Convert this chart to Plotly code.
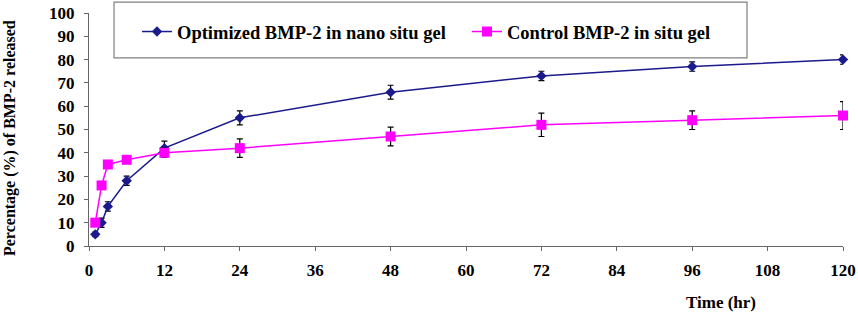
import plotly.graph_objects as go

time_hr = [1, 2, 3, 6, 12, 24, 48, 72, 96, 120]
optimized = [5, 10, 17, 28, 42, 55, 66, 73, 77, 80]
optimized_err = [1, 2, 2, 2, 3, 3, 3, 2, 2, 2]
control = [10, 26, 35, 37, 40, 42, 47, 52, 54, 56]
control_err = [0.5, 0.5, 1.5, 1.5, 2, 4, 4, 5, 4, 6]
x_ticks = [0, 12, 24, 36, 48, 60, 72, 84, 96, 108, 120]
y_ticks = [0, 10, 20, 30, 40, 50, 60, 70, 80, 90, 100]

FONT = "Liberation Serif, DejaVu Serif, Noto Serif, Times New Roman, serif"

fig = go.Figure()
fig.add_trace(go.Scatter(
    x=time_hr, y=optimized, mode="lines+markers",
    name="<b>Optimized BMP-2 in nano situ gel</b>",
    line=dict(color="#1a1a8c", width=1.5),
    marker=dict(symbol="diamond", size=8, color="#1a1a8c"),
    error_y=dict(type="data", array=optimized_err, visible=True,
                 color="black", thickness=1.2, width=3),
    cliponaxis=False,
))
fig.add_trace(go.Scatter(
    x=time_hr, y=control, mode="lines+markers",
    name="<b>Control BMP-2 in situ gel</b>",
    line=dict(color="#ff00ff", width=1.5),
    marker=dict(symbol="square", size=10, color="#ff00ff"),
    error_y=dict(type="data", array=control_err, visible=True,
                 color="black", thickness=1.2, width=3),
    cliponaxis=False,
))

axis_common = dict(
    showgrid=False, zeroline=False, showline=True, linecolor="#666666",
    linewidth=1.2, ticks="outside", ticklen=4, tickcolor="#666666",
    tickfont=dict(family=FONT, size=17, color="black", weight="bold"),
    automargin=False,
)
fig.update_xaxes(range=[0, 120], tickvals=x_ticks, ticklabelstandoff=4, **axis_common)
fig.update_yaxes(range=[0, 100], tickvals=y_ticks, ticklabelstandoff=6, **axis_common)

fig.add_shape(type="rect", xref="paper", yref="paper",
              x0=0.0332, x1=0.8727, y0=0.807, y1=1.047,
              line=dict(color="#808080", width=1.2), fillcolor="white", layer="below")

fig.add_annotation(text="<b>Time (hr)</b>", xref="paper", yref="paper",
                   x=(721 - 89) / 754, y=-(302 - 246) / 233, showarrow=False,
                   font=dict(family=FONT, size=17, color="black"),
                   xanchor="center", yanchor="middle")
fig.add_annotation(text="<b>Percentage (%) of BMP-2 released</b>", xref="paper", yref="paper",
                   x=-(89 - 10) / 754, y=(246 - 138) / 233, showarrow=False, textangle=-90,
                   font=dict(family=FONT, size=16, color="black"),
                   xanchor="center", yanchor="middle")

fig.update_layout(
    width=858, height=313,
    margin=dict(l=89, r=15, t=13, b=67, autoexpand=False),
    paper_bgcolor="white", plot_bgcolor="white",
    showlegend=True,
    legend=dict(orientation="h", x=(137 - 89) / 754, y=(246 - 32) / 233,
                xanchor="left", yanchor="middle", bgcolor="rgba(0,0,0,0)",
                font=dict(family=FONT, size=18.5, color="black"),
                entrywidth=285, itemwidth=30),
)

fig.write_html("out.html", config={"displayModeBar": False},
               post_script="document.body.style.margin='0';document.body.style.padding='0';")
